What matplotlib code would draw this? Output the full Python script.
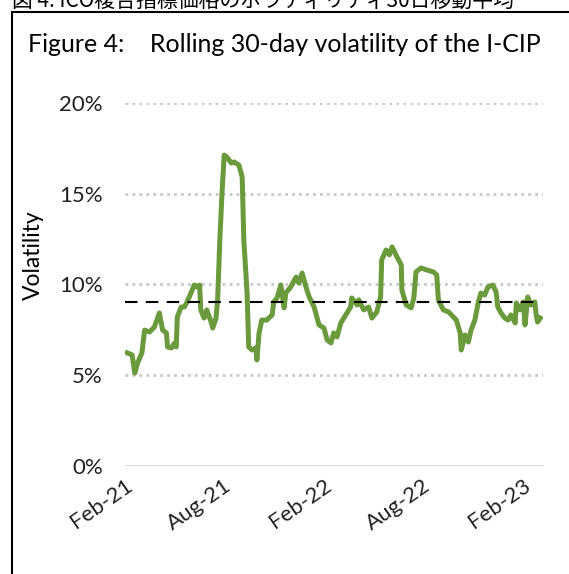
import matplotlib
matplotlib.use("Agg")
import matplotlib.pyplot as plt
import matplotlib.dates as mdates
from matplotlib.ticker import FuncFormatter
from matplotlib.lines import Line2D
import pandas as pd

# rolling 30-day volatility (%)
fechas = ["2021-02-05", "2021-02-14", "2021-02-19", "2021-02-24", "2021-03-04", "2021-03-09",
          "2021-03-18", "2021-03-27", "2021-04-05", "2021-04-11", "2021-04-18", "2021-04-20",
          "2021-04-27", "2021-05-03", "2021-05-06", "2021-05-08", "2021-05-15", "2021-05-21",
          "2021-05-26", "2021-06-02", "2021-06-08", "2021-06-13", "2021-06-18", "2021-06-20",
          "2021-06-26", "2021-07-01", "2021-07-09", "2021-07-12", "2021-07-18", "2021-07-21",
          "2021-07-25", "2021-07-29", "2021-08-02", "2021-08-07", "2021-08-15", "2021-08-20",
          "2021-08-29", "2021-09-04", "2021-09-07", "2021-09-13", "2021-09-16", "2021-09-22",
          "2021-09-29", "2021-10-01", "2021-10-05", "2021-10-10", "2021-10-19", "2021-10-29",
          "2021-11-01", "2021-11-07", "2021-11-14", "2021-11-20", "2021-11-23", "2021-12-02",
          "2021-12-12", "2021-12-17", "2021-12-23", "2021-12-30", "2022-01-05", "2022-01-14",
          "2022-01-23", "2022-02-01", "2022-02-07", "2022-02-14", "2022-02-19", "2022-02-25",
          "2022-03-04", "2022-03-13", "2022-03-22", "2022-03-24", "2022-04-03", "2022-04-06",
          "2022-04-15", "2022-04-24", "2022-04-30", "2022-05-09", "2022-05-16", "2022-05-18",
          "2022-05-26", "2022-06-01", "2022-06-06", "2022-06-15", "2022-06-23", "2022-06-24",
          "2022-07-02", "2022-07-11", "2022-07-16", "2022-07-20", "2022-07-29", "2022-08-09",
          "2022-08-21", "2022-08-27", "2022-08-30", "2022-09-08", "2022-09-18", "2022-09-23",
          "2022-10-02", "2022-10-09", "2022-10-11", "2022-10-18", "2022-10-24", "2022-10-29",
          "2022-11-05", "2022-11-11", "2022-11-16", "2022-11-23", "2022-11-29", "2022-12-08",
          "2022-12-14", "2022-12-17", "2022-12-23", "2022-12-30", "2023-01-05", "2023-01-10",
          "2023-01-18", "2023-01-20", "2023-01-27", "2023-02-02", "2023-02-05", "2023-02-10",
          "2023-02-16", "2023-02-23", "2023-02-25", "2023-02-28", "2023-03-05"]
volatilidad = [6.23, 6.12, 5.12, 5.67, 6.23, 7.49,
               7.38, 7.66, 8.43, 7.49, 7.33, 6.56,
               6.50, 6.78, 6.56, 8.21, 8.76, 8.76,
               9.04, 9.53, 9.97, 9.86, 9.97, 8.60,
               8.15, 8.60, 7.93, 7.60, 8.15, 9.15,
               12.45, 15.04, 17.13, 17.02, 16.69, 16.75,
               16.58, 15.92, 12.45, 9.53, 6.56, 6.39,
               6.50, 5.84, 7.33, 8.04, 8.04, 8.32,
               9.04, 9.26, 9.97, 8.71, 9.53, 9.86,
               10.41, 10.08, 10.63, 9.86, 9.31, 8.76,
               7.77, 7.60, 6.94, 6.78, 7.33, 7.11,
               7.88, 8.32, 8.76, 9.26, 8.87, 9.15,
               8.60, 8.76, 8.15, 8.48, 9.31, 11.35,
               11.90, 11.63, 12.07, 11.52, 11.07, 9.70,
               8.87, 8.71, 9.26, 10.69, 10.91, 10.80,
               10.69, 10.52, 9.15, 8.60, 8.48, 8.32,
               8.04, 7.33, 6.39, 7.22, 6.83, 7.49,
               8.04, 8.98, 9.53, 9.42, 9.86, 9.97,
               9.59, 8.76, 8.43, 8.15, 8.04, 8.32,
               7.88, 8.98, 8.60, 9.04, 7.77, 9.31,
               8.87, 9.04, 8.43, 7.93, 8.15]
promedio = 9.05
ticks_x = ["2021-02-01", "2021-08-01", "2022-02-01", "2022-08-01", "2023-02-01"]

df = pd.DataFrame({"fecha": pd.to_datetime(fechas), "vol": volatilidad})

plt.rcParams["font.family"] = ["Lato", "DejaVu Sans"]

fig = plt.figure(figsize=(5.69, 5.74), dpi=100)
ax = fig.add_axes([0.2197, 0.1882, 0.7346, 0.6324])

for y in [5, 10, 15, 20]:
    ax.axhline(y, color="#c8c8c8", lw=2, ls=(0, (1, 1.5)), zorder=1)
ax.axhline(0, color="#d9d9d9", lw=1.5, zorder=1)

ax.plot(df["fecha"], df["vol"], color="#6a9a3b", lw=3.6, solid_joinstyle="round", zorder=3)
ax.plot([pd.Timestamp("2021-02-01"), df["fecha"].iloc[-1]], [promedio, promedio],
        color="black", lw=1.5, ls=(0, (6, 4)), zorder=4)

ax.set_ylim(0, 20)
ax.set_xlim(pd.Timestamp("2021-02-01"), pd.Timestamp("2023-03-10"))
ax.set_yticks([0, 5, 10, 15, 20])
ax.yaxis.set_major_formatter(FuncFormatter(lambda v, p: f"{v:.0f}%"))
ax.set_xticks(pd.to_datetime(ticks_x))
ax.xaxis.set_major_formatter(mdates.DateFormatter("%b-%y"))
ax.tick_params(length=0, labelsize=16, colors="#222222")
ax.tick_params(axis="y", pad=16)
ax.tick_params(axis="x", pad=7)
for lbl in ax.get_xticklabels():
    lbl.set_rotation(35)
    lbl.set_ha("right")
    lbl.set_rotation_mode("anchor")
for s in ax.spines.values():
    s.set_visible(False)
ax.set_ylabel("Volatility", fontsize=16.5)
ax.yaxis.set_label_coords(-0.195, 0.58)

fig.text(0.05, 0.922, "Figure 4:    Rolling 30-day volatility of the I-CIP", fontsize=18, va="center")

# Japanese caption cut off at the top
fig.text(0.021, 1 - 7 / 574, "図 4: ICO複合指標価格のボラティリティ30日移動平均",
         fontsize=15, family=["Noto Sans CJK JP", "DejaVu Sans"], va="baseline")

# frame around the figure panel
fig.add_artist(Line2D([12 / 569, 12 / 569], [0, 1 - 12 / 574], color="black", lw=1.5))
fig.add_artist(Line2D([12 / 569, 1], [1 - 12 / 574, 1 - 12 / 574], color="black", lw=1.5))

fig.savefig("out.png", dpi=100)
